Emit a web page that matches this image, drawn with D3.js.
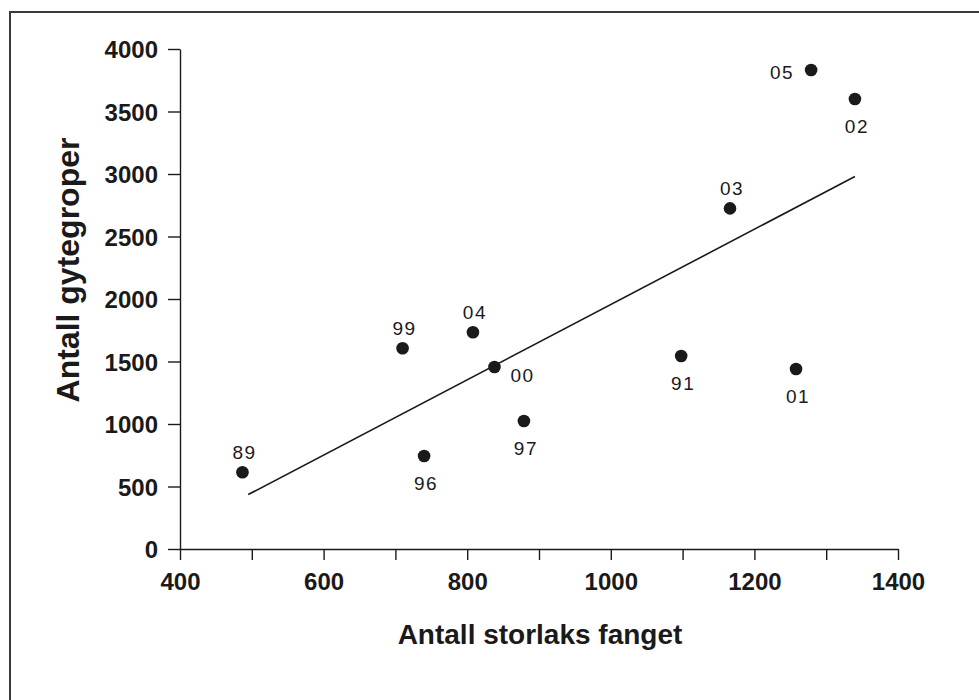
<!DOCTYPE html>
<html>
<head>
<meta charset="utf-8">
<script src="https://cdn.jsdelivr.net/npm/d3@7"></script>
<style>
  html, body { margin: 0; padding: 0; background: #fff; }
  svg { display: block; }
</style>
</head>
<body>
<svg id="chart" width="979" height="700"></svg>
<script>
// ---- data ----
const years   = ["89", "96", "97", "99", "00", "04", "91", "01", "03", "05", "02"];
const caught  = [487, 740, 879, 710, 838, 808, 1098, 1258, 1166, 1279, 1340];
const nests   = [614, 744, 1024, 1606, 1456, 1734, 1544, 1440, 2725, 3832, 3600];
const labelSide = ["above", "below", "below", "above", "right", "above", "below", "below", "above", "left", "below"];
const xTicks  = [400, 500, 600, 700, 800, 900, 1000, 1100, 1200, 1300, 1400];
const xLabels = [400, 600, 800, 1000, 1200, 1400];
const yTicks  = [0, 500, 1000, 1500, 2000, 2500, 3000, 3500, 4000];
const trendRange = [495, 1340];
const xTitle = "Antall storlaks fanget";
const yTitle = "Antall gytegroper";

// ---- layout ----
const svg = d3.select("#chart");
const x = d3.scaleLinear().domain([400, 1400]).range([180, 898]);
const y = d3.scaleLinear().domain([0, 4000]).range([549, 49]);
const ink = "#1a1a1a";
const font = "'Liberation Sans', Arial, sans-serif";

// frame
svg.append("rect")
  .attr("x", 10).attr("y", 12).attr("width", 1000).attr("height", 1000)
  .attr("fill", "none").attr("stroke", "#3a3a3a").attr("stroke-width", 2);

// axes
const xAxis = d3.axisBottom(x).tickValues(xTicks).tickSize(11).tickSizeOuter(0).tickPadding(13)
  .tickFormat(d => xLabels.includes(d) ? d : "");
const yAxis = d3.axisLeft(y).tickValues(yTicks).tickSize(12).tickSizeOuter(0).tickPadding(10)
  .tickFormat(d => d);

const gx = svg.append("g").attr("transform", `translate(0,${y(0)})`).call(xAxis);
const gy = svg.append("g").attr("transform", `translate(${x(400)},0)`).call(yAxis);

[gx, gy].forEach(g => {
  g.selectAll("path, line").attr("stroke", ink).attr("stroke-width", 1.4);
  g.selectAll("text")
    .attr("fill", ink)
    .style("font-family", font)
    .style("font-weight", "bold")
    .style("font-size", "24px");
});
gy.selectAll("text").attr("dy", "0.36em");

// axis titles
svg.append("text")
  .attr("x", 540).attr("y", 644)
  .attr("text-anchor", "middle")
  .attr("fill", ink)
  .style("font-family", font)
  .style("font-weight", "bold").style("font-size", "28px")
  .text(xTitle);

svg.append("text")
  .attr("transform", `translate(79,270) rotate(-90)`)
  .attr("text-anchor", "middle")
  .attr("fill", ink)
  .style("font-family", font)
  .style("font-weight", "bold").style("font-size", "32px")
  .text(yTitle);

// regression line (least squares from the data)
const mx = d3.mean(caught), my = d3.mean(nests);
let sxy = 0, sxx = 0;
caught.forEach((c, i) => { sxy += (c - mx) * (nests[i] - my); sxx += (c - mx) * (c - mx); });
const slope = sxy / sxx, intercept = my - slope * mx;
const trend = trendRange.map(v => [v, intercept + slope * v]);
svg.append("path")
  .attr("d", d3.line().x(d => x(d[0])).y(d => y(d[1]))(trend))
  .attr("fill", "none").attr("stroke", ink).attr("stroke-width", 1.6);

// points
const pts = years.map((yr, i) => ({ yr, cx: caught[i], cy: nests[i], side: labelSide[i] }));
svg.append("g").selectAll("circle").data(pts).join("circle")
  .attr("cx", d => x(d.cx)).attr("cy", d => y(d.cy)).attr("r", 6.3)
  .attr("fill", ink);

const offsets = {
  above: { dx: 2, dy: -13, anchor: "middle" },
  below: { dx: 2, dy: 34, anchor: "middle" },
  right: { dx: 16, dy: 15, anchor: "start" },
  left:  { dx: -17, dy: 9, anchor: "end" }
};
svg.append("g").selectAll("text").data(pts).join("text")
  .attr("x", d => x(d.cx) + offsets[d.side].dx)
  .attr("y", d => y(d.cy) + offsets[d.side].dy)
  .attr("text-anchor", d => offsets[d.side].anchor)
  .attr("fill", ink)
  .style("font-family", font)
  .style("font-size", "19px")
  .style("letter-spacing", "1.5px")
  .text(d => d.yr);
</script>
</body>
</html>
